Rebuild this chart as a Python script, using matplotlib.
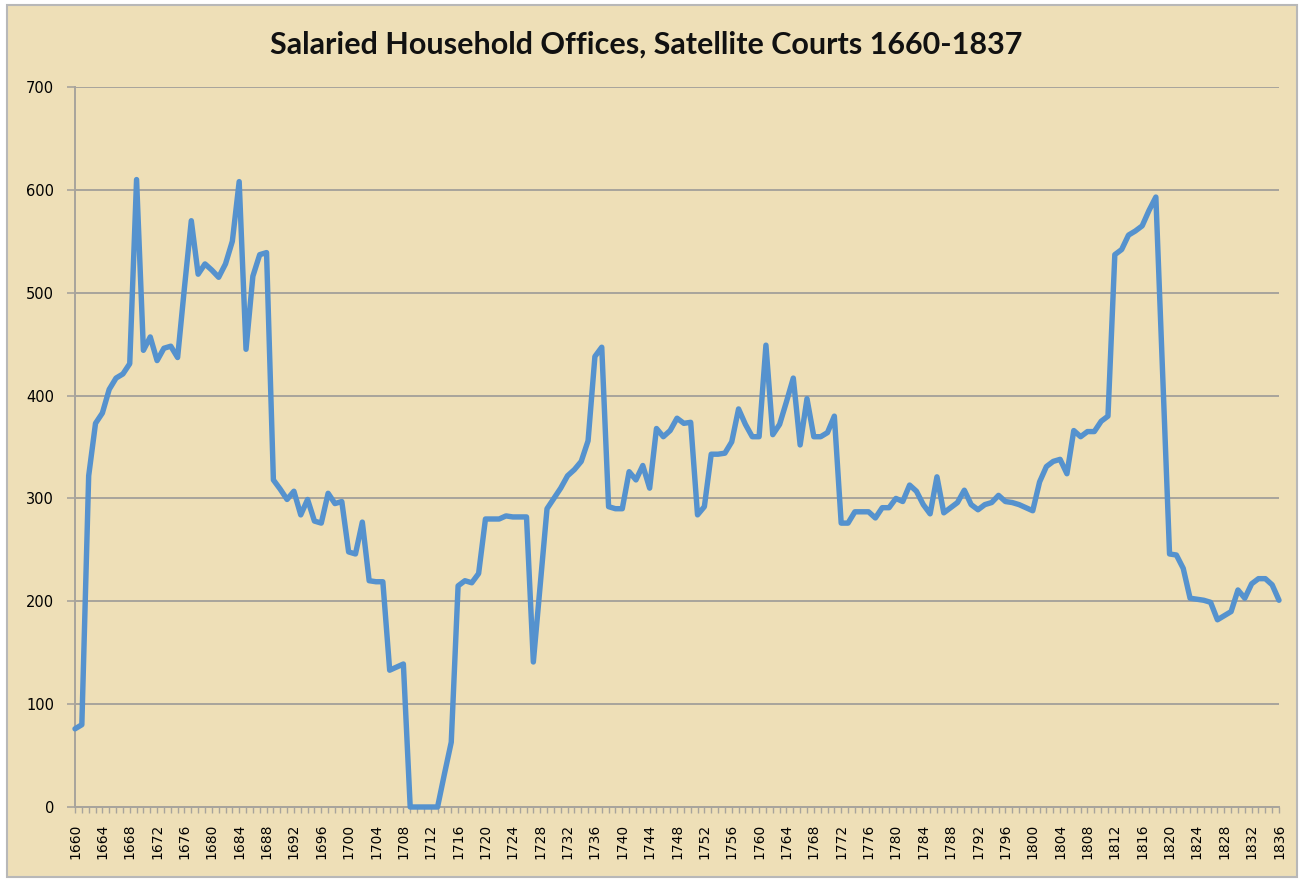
import matplotlib
matplotlib.use('Agg')
import matplotlib.pyplot as plt
from matplotlib.patches import Rectangle
from matplotlib.ticker import MultipleLocator

title = 'Salaried Household Offices, Satellite Courts 1660-1837'

first_year = 1660
offices = [
    76, 80, 322, 373, 383, 406, 417, 421, 431, 610,      # 1660-1669
    444, 457, 434, 446, 448, 437, 505, 570, 518, 528,    # 1670-1679
    522, 515, 528, 550, 608, 445, 516, 537, 539, 318,    # 1680-1689
    309, 299, 307, 284, 299, 278, 276, 305, 295, 297,    # 1690-1699
    248, 246, 277, 220, 219, 219, 133, 136, 139, 0,      # 1700-1709
    0, 0, 0, 0, 32, 63, 215, 220, 218, 227,              # 1710-1719
    280, 280, 280, 283, 282, 282, 282, 141, 215, 290,    # 1720-1729
    300, 310, 322, 328, 336, 356, 438, 447, 292, 290,    # 1730-1739
    290, 326, 318, 332, 310, 368, 360, 366, 378, 373,    # 1740-1749
    374, 284, 292, 343, 343, 344, 355, 387, 372, 360,    # 1750-1759
    360, 449, 362, 372, 394, 417, 352, 397, 360, 360,    # 1760-1769
    364, 380, 276, 276, 287, 287, 287, 281, 291, 291,    # 1770-1779
    300, 297, 313, 307, 294, 285, 321, 286, 291, 296,    # 1780-1789
    308, 294, 289, 294, 296, 303, 297, 296, 294, 291,    # 1790-1799
    288, 316, 331, 336, 338, 324, 366, 360, 365, 365,    # 1800-1809
    375, 380, 537, 542, 556, 560, 565, 580, 593, 420,    # 1810-1819
    246, 245, 232, 203, 202, 201, 199, 182, 186, 190,    # 1820-1829
    211, 203, 217, 222, 222, 216, 201,                   # 1830-1836
]
years = list(range(first_year, first_year + len(offices)))

y_ticks = [0, 100, 200, 300, 400, 500, 600, 700]
x_ticks = list(range(1660, 1837, 4))

paper = '#EEDFB7'
grid_col = '#A8A49C'
line_col = '#5592CE'

fig = plt.figure(figsize=(13.03, 8.82), dpi=100)
fig.patch.set_facecolor('white')
# chart area (parchment) with thin grey outline, kept behind the axes
fig.patches.append(Rectangle((7 / 1303, 5 / 882), 1290 / 1303, 872 / 882,
                             transform=fig.transFigure, facecolor=paper,
                             edgecolor='#B8B8B8', linewidth=1.5, zorder=-10))

ax = fig.add_axes([75 / 1303, 75 / 882, 1204 / 1303, 720 / 882])
ax.set_facecolor('none')

ax.plot(years, offices, color=line_col, linewidth=3.9, solid_joinstyle='round',
        solid_capstyle='round', clip_on=False, zorder=3)

ax.set_xlim(1660, 1836)
ax.set_ylim(0, 700)
ax.set_yticks(y_ticks)
ax.set_xticks(x_ticks)
ax.set_xticklabels([str(t) for t in x_ticks], rotation=90)
ax.xaxis.set_minor_locator(MultipleLocator(1))

ax.grid(axis='y', color=grid_col, linewidth=1.4)
ax.set_axisbelow(True)
for side in ['top', 'right']:
    ax.spines[side].set_visible(False)
for side in ['left', 'bottom']:
    ax.spines[side].set_color(grid_col)
    ax.spines[side].set_linewidth(1.4)

ax.tick_params(axis='y', length=6, width=1.2, color=grid_col, labelsize=10.5, pad=9)
ax.tick_params(axis='x', which='both', length=4, width=1.0, color=grid_col,
               labelsize=10, pad=8)

# title sits a little left of the plot centre, like the original
fig.text(646 / 1303, 1 - 45 / 882, title, fontsize=22, fontweight='bold',
         family=['Lato', 'DejaVu Sans'], color='#111111', ha='center', va='center')

fig.savefig('out.png', dpi=100, facecolor=fig.get_facecolor())
